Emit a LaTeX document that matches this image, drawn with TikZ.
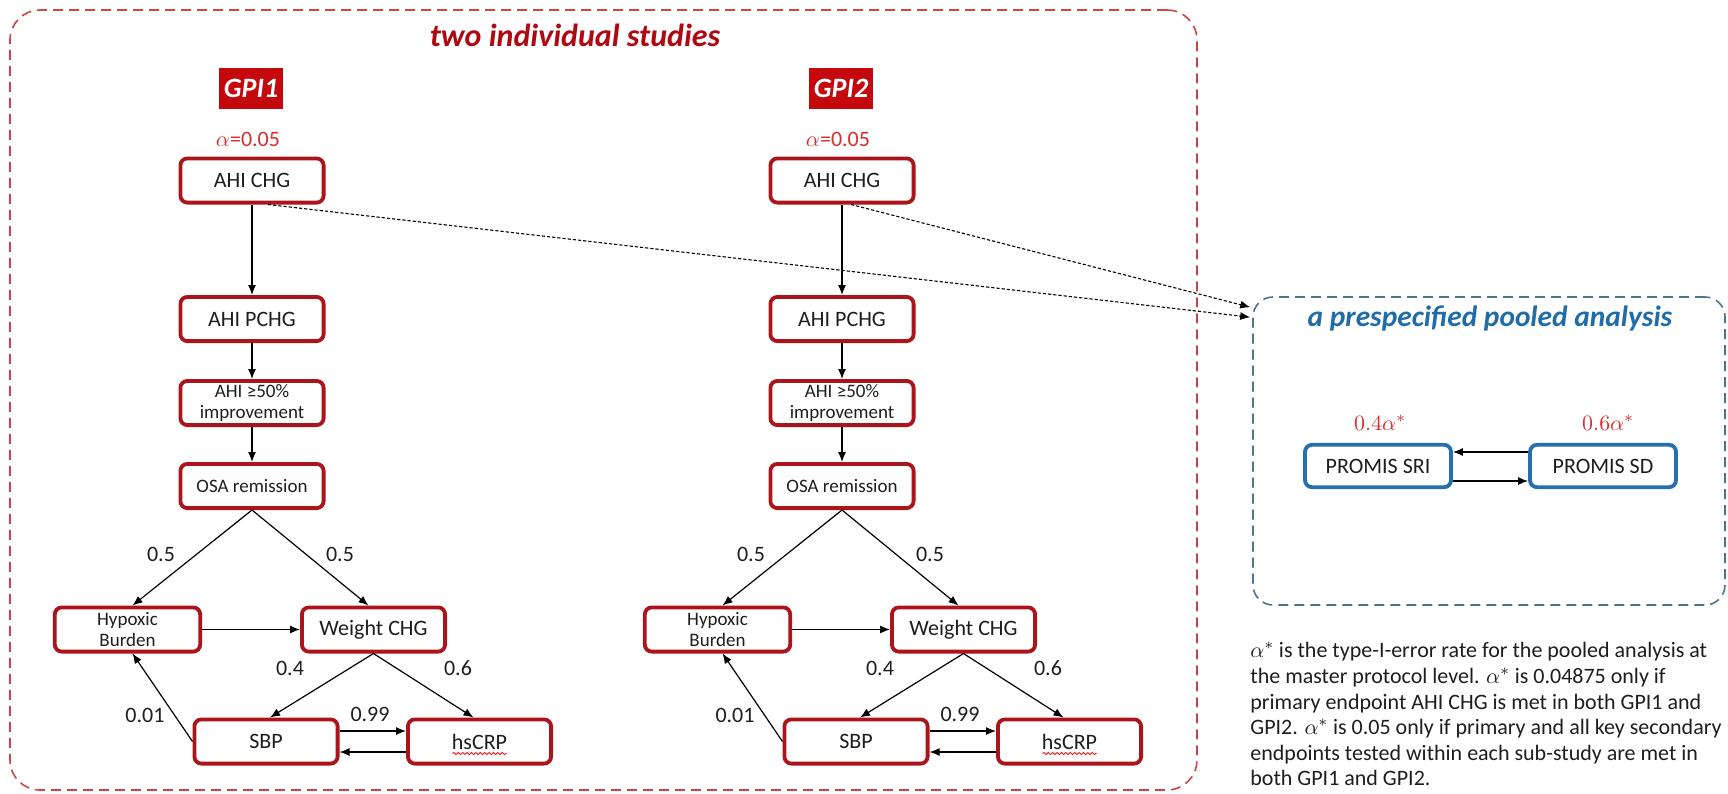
\documentclass[tikz,border=0pt]{standalone}
\usepackage{fontspec}
\setmainfont{Carlito}
\usetikzlibrary{arrows.meta,calc,decorations.pathmorphing}

\definecolor{inkgray}{RGB}{30,30,30}
\definecolor{boxred}{RGB}{172,20,28}
\definecolor{gpired}{RGB}{196,8,12}
\definecolor{titlered}{RGB}{176,8,16}
\definecolor{alphared}{RGB}{215,45,45}
\definecolor{framered}{RGB}{205,70,70}
\definecolor{poolframe}{RGB}{75,118,138}
\definecolor{boxblue}{RGB}{38,112,175}
\definecolor{titleblue}{RGB}{30,108,168}

\begin{document}
\begin{tikzpicture}[x=0.5pt,y=-0.5pt,
  every node/.style={text=inkgray},
  redbox/.style={draw=boxred, line width=1.9pt, rounded corners=3.5pt, fill=white,
    minimum width=71.6pt, minimum height=22.1pt, inner sep=0pt, align=center,
    font=\fontsize{11}{12}\selectfont},
  smallred/.style={redbox, font=\fontsize{9.5}{10.5}\selectfont},
  bluebox/.style={draw=boxblue, line width=1.9pt, rounded corners=3.5pt, fill=white,
    minimum width=73pt, minimum height=21.2pt, inner sep=0pt,
    font=\fontsize{11}{12}\selectfont},
  gpitag/.style={fill=gpired, text=white, inner sep=0pt,
    minimum width=32pt, minimum height=20.5pt,
    font=\bfseries\itshape\fontsize{14}{16}\selectfont},
  alphatag/.style={text=alphared, inner sep=0pt, font=\fontsize{11}{12}\selectfont},
  weight/.style={inner sep=0pt, font=\fontsize{11}{12}\selectfont},
  arr/.style={-{Latex[length=5pt,width=4pt]}, line width=0.6pt, draw=black},
  link/.style={arr, dash pattern=on 1.6pt off 1pt, line width=0.55pt},
  frame/.style={dash pattern=on 5pt off 3pt, line width=0.8pt, inner sep=0pt}
]
\useasboundingbox (0,0) rectangle (1728,793);
\fill[white] (0,0) rectangle (1728,793);

% frame around the two sub-studies
\node[frame, draw=framered, rounded corners=15pt,
  minimum width=593.5pt, minimum height=390pt] (studies) at (603.5,400) {};
\node[text=titlered, inner sep=0pt, font=\bfseries\itshape\fontsize{16}{18}\selectfont]
  (stitle) at (575,35) {two individual studies};

% one testing hierarchy per sub-study
\foreach \k/\dx in {1/0,2/590} {
  \node[gpitag] (g\k) at ({251+\dx},88.5) {GPI\k};
  \node[alphatag] (a\k) at ({248+\dx},139) {$\alpha$=0.05};
  \node[redbox] (c\k) at ({252+\dx},180.5) {AHI CHG};
  \node[redbox] (p\k) at ({252+\dx},319) {AHI PCHG};
  \node[smallred] (i\k) at ({252+\dx},403) {AHI ≥50\%\\improvement};
  \node[smallred] (o\k) at ({252+\dx},486) {OSA remission};
  \node[smallred, minimum width=72.7pt] (hb\k) at ({127.5+\dx},629.5) {Hypoxic\\Burden};
  \node[redbox] (wc\k) at ({373.5+\dx},629.5) {Weight CHG};
  \node[redbox] (sb\k) at ({266+\dx},741.5) {SBP};
  \node[redbox] (hs\k) at ({479.5+\dx},741.5) {hsCRP};
  \draw[red, line width=0.4pt, decorate,
    decoration={snake, amplitude=0.5pt, segment length=2.2pt}]
    ($(hs\k.center)+(-27,12)$) -- ($(hs\k.center)+(27,12)$);

  \draw[arr] (c\k) -- (p\k);
  \draw[arr] (p\k) -- (i\k);
  \draw[arr] (i\k) -- (o\k);
  \draw[arr] (o\k.south) -- ($(hb\k.north)+(5,0)$);
  \draw[arr] (o\k.south) -- ($(wc\k.north)+(-5,0)$);
  \draw[arr] (hb\k) -- (wc\k);
  \draw[arr] (wc\k.south) -- ($(sb\k.north)+(4,0)$);
  \draw[arr] (wc\k.south) -- ($(hs\k.north)+(-6,0)$);
  \draw[arr] (sb\k.west) -- ($(hb\k.south)+(5,0)$);
  \draw[arr] ($(sb\k.east)+(0,-10.5)$) -- ($(hs\k.west)+(0,-10.5)$);
  \draw[arr] ($(hs\k.west)+(0,10.5)$) -- ($(sb\k.east)+(0,10.5)$);

  \node[weight] (wa\k) at ({161+\dx},554) {0.5};
  \node[weight] (wb\k) at ({340+\dx},554) {0.5};
  \node[weight] (wd\k) at ({290+\dx},668) {0.4};
  \node[weight] (we\k) at ({458+\dx},668) {0.6};
  \node[weight] (wf\k) at ({145+\dx},715) {0.01};
  \node[weight] (wg\k) at ({370+\dx},714) {0.99};
}

% pooled analysis across both sub-studies
\node[frame, draw=poolframe, rounded corners=10pt,
  minimum width=236pt, minimum height=154pt] (pool) at (1489,451) {};
\node[text=titleblue, inner sep=0pt, font=\bfseries\itshape\fontsize{14.7}{17}\selectfont]
  (ptitle) at (1490,318) {a prespecified pooled analysis};
\node[bluebox] (sri) at (1378,466) {PROMIS SRI};
\node[bluebox] (sd) at (1603,466) {PROMIS SD};
\node[alphatag] (ra) at (1380,423) {$0.4\alpha^{*}$};
\node[alphatag] (rb) at (1608,423) {$0.6\alpha^{*}$};
\draw[arr] ($(sd.west)+(0,-14)$) -- ($(sri.east)+(0,-14)$);
\draw[arr] ($(sri.east)+(0,15)$) -- ($(sd.west)+(0,15)$);

\draw[link] ($(c1.south)+(16,0)$) -- ($(pool.north west)+(-2,21)$);
\draw[link] ($(c2.south)+(9,0)$) -- ($(pool.north west)+(-2,11)$);

% footnote on the pooled type-I-error rate
\node[anchor=north west, inner sep=0pt, align=left,
  font=\fontsize{11}{12.8}\selectfont] (note) at (1250,642)
  {$\alpha^{*}$ is the type-I-error rate for the pooled analysis at\\
   the master protocol level. $\alpha^{*}$ is 0.04875 only if\\
   primary endpoint AHI CHG is met in both GPI1 and\\
   GPI2. $\alpha^{*}$ is 0.05 only if primary and all key secondary\\
   endpoints tested within each sub-study are met in\\
   both GPI1 and GPI2.};
\end{tikzpicture}
\end{document}
